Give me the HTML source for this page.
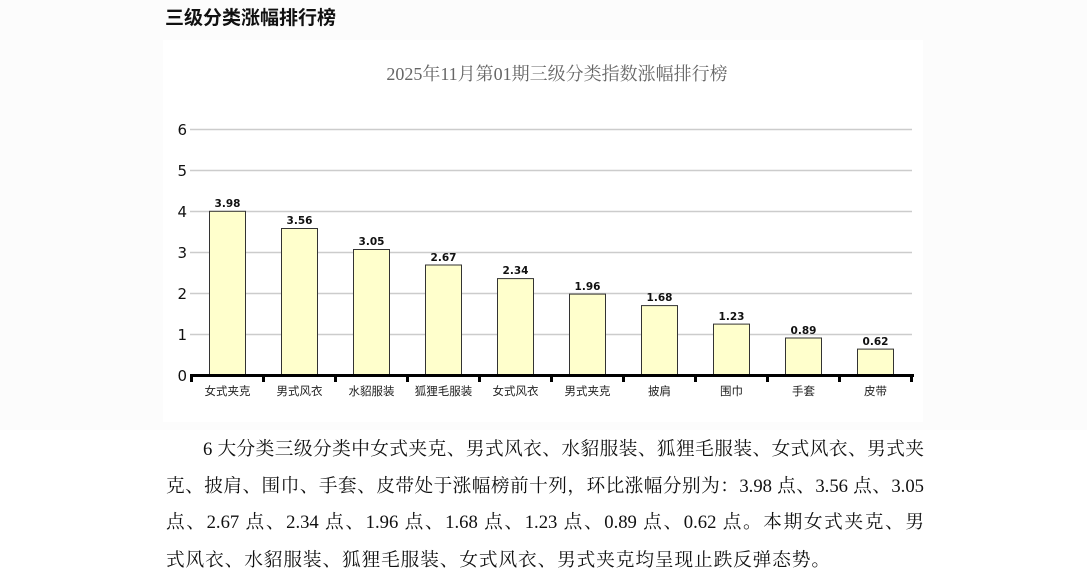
<!DOCTYPE html>
<html>
<head>
<meta charset="utf-8">
<style>
html,body{margin:0;padding:0;background:#fff;}
body{width:1087px;height:570px;position:relative;overflow:hidden;}
.p{position:absolute;left:166px;width:758px;font-family:"Liberation Serif","Noto Serif CJK SC",serif;font-size:18.67px;line-height:20px;color:#111;white-space:nowrap;text-align:justify;text-align-last:justify;}
.last{text-align:left;text-align-last:left;letter-spacing:0.9px;}
</style>
</head>
<body>
<svg width="1087" height="430" style="position:absolute;left:0;top:0" xmlns="http://www.w3.org/2000/svg">
  <rect x="0" y="0" width="1087" height="430" fill="#fcfcfc"/>
  <rect x="163" y="40" width="760" height="382" fill="#ffffff"/>
  <text x="165" y="24" font-family="Liberation Sans,Noto Sans CJK SC,sans-serif" font-size="19" font-weight="bold" fill="#111">三级分类涨幅排行榜</text>
  <text x="557" y="80" text-anchor="middle" font-family="Liberation Serif,Noto Serif CJK SC,serif" font-size="18" fill="#666">2025年11月第01期三级分类指数涨幅排行榜</text>
  <g stroke="#cccccc" stroke-width="1.6">
    <line x1="190" y1="129.5" x2="912" y2="129.5"/>
    <line x1="190" y1="170.5" x2="912" y2="170.5"/>
    <line x1="190" y1="211.5" x2="912" y2="211.5"/>
    <line x1="190" y1="252.5" x2="912" y2="252.5"/>
    <line x1="190" y1="293.5" x2="912" y2="293.5"/>
    <line x1="190" y1="334.5" x2="912" y2="334.5"/>
  </g>
  <g font-family="DejaVu Sans,Verdana,sans-serif" font-size="15" fill="#111" text-anchor="end">
    <text x="187" y="135">6</text>
    <text x="187" y="176">5</text>
    <text x="187" y="217">4</text>
    <text x="187" y="258">3</text>
    <text x="187" y="299">2</text>
    <text x="187" y="340">1</text>
    <text x="187" y="381">0</text>
  </g>
  <g fill="#ffffcc" stroke="#333" stroke-width="1">
    <rect x="209.5" y="211.3" width="36" height="163.2"/>
    <rect x="281.5" y="228.5" width="36" height="146"/>
    <rect x="353.5" y="249.5" width="36" height="125"/>
    <rect x="425.5" y="265" width="36" height="109.5"/>
    <rect x="497.5" y="278.6" width="36" height="95.9"/>
    <rect x="569.5" y="294.1" width="36" height="80.4"/>
    <rect x="641.5" y="305.6" width="36" height="68.9"/>
    <rect x="713.5" y="324.1" width="36" height="50.4"/>
    <rect x="785.5" y="338" width="36" height="36.5"/>
    <rect x="857.5" y="349.1" width="36" height="25.4"/>
  </g>
  <g font-family="DejaVu Sans,Verdana,sans-serif" font-size="10.5" font-weight="bold" fill="#111" text-anchor="middle">
    <text x="227.5" y="207">3.98</text>
    <text x="299.5" y="224">3.56</text>
    <text x="371.5" y="245">3.05</text>
    <text x="443.5" y="261">2.67</text>
    <text x="515.5" y="274">2.34</text>
    <text x="587.5" y="290">1.96</text>
    <text x="659.5" y="301">1.68</text>
    <text x="731.5" y="320">1.23</text>
    <text x="803.5" y="334">0.89</text>
    <text x="875.5" y="345">0.62</text>
  </g>
  <line x1="190" y1="375.5" x2="914" y2="375.5" stroke="#000" stroke-width="3"/>
  <g stroke="#000" stroke-width="3">
    <line x1="191.5" y1="375" x2="191.5" y2="382"/>
    <line x1="263.5" y1="375" x2="263.5" y2="382"/>
    <line x1="335.5" y1="375" x2="335.5" y2="382"/>
    <line x1="407.5" y1="375" x2="407.5" y2="382"/>
    <line x1="479.5" y1="375" x2="479.5" y2="382"/>
    <line x1="551.5" y1="375" x2="551.5" y2="382"/>
    <line x1="623.5" y1="375" x2="623.5" y2="382"/>
    <line x1="695.5" y1="375" x2="695.5" y2="382"/>
    <line x1="767.5" y1="375" x2="767.5" y2="382"/>
    <line x1="839.5" y1="375" x2="839.5" y2="382"/>
    <line x1="911.5" y1="375" x2="911.5" y2="382"/>
  </g>
  <g font-family="Liberation Sans,Noto Sans CJK SC,sans-serif" font-size="11.5" fill="#222" text-anchor="middle">
    <text x="227.5" y="395">女式夹克</text>
    <text x="299.5" y="395">男式风衣</text>
    <text x="371.5" y="395">水貂服装</text>
    <text x="443.5" y="395">狐狸毛服装</text>
    <text x="515.5" y="395">女式风衣</text>
    <text x="587.5" y="395">男式夹克</text>
    <text x="659.5" y="395">披肩</text>
    <text x="731.5" y="395">围巾</text>
    <text x="803.5" y="395">手套</text>
    <text x="875.5" y="395">皮带</text>
  </g>
</svg>
<div class="p" style="top:440px;left:203px;width:721px;">6 大分类三级分类中女式夹克、男式风衣、水貂服装、狐狸毛服装、女式风衣、男式夹</div>
<div class="p" style="top:477px;">克、披肩、围巾、手套、皮带处于涨幅榜前十列，环比涨幅分别为：3.98 点、3.56 点、3.05</div>
<div class="p" style="top:513px;">点、2.67 点、2.34 点、1.96 点、1.68 点、1.23 点、0.89 点、0.62 点。本期女式夹克、男</div>
<div class="p last" style="top:551px;">式风衣、水貂服装、狐狸毛服装、女式风衣、男式夹克均呈现止跌反弹态势。</div>
</body>
</html>
